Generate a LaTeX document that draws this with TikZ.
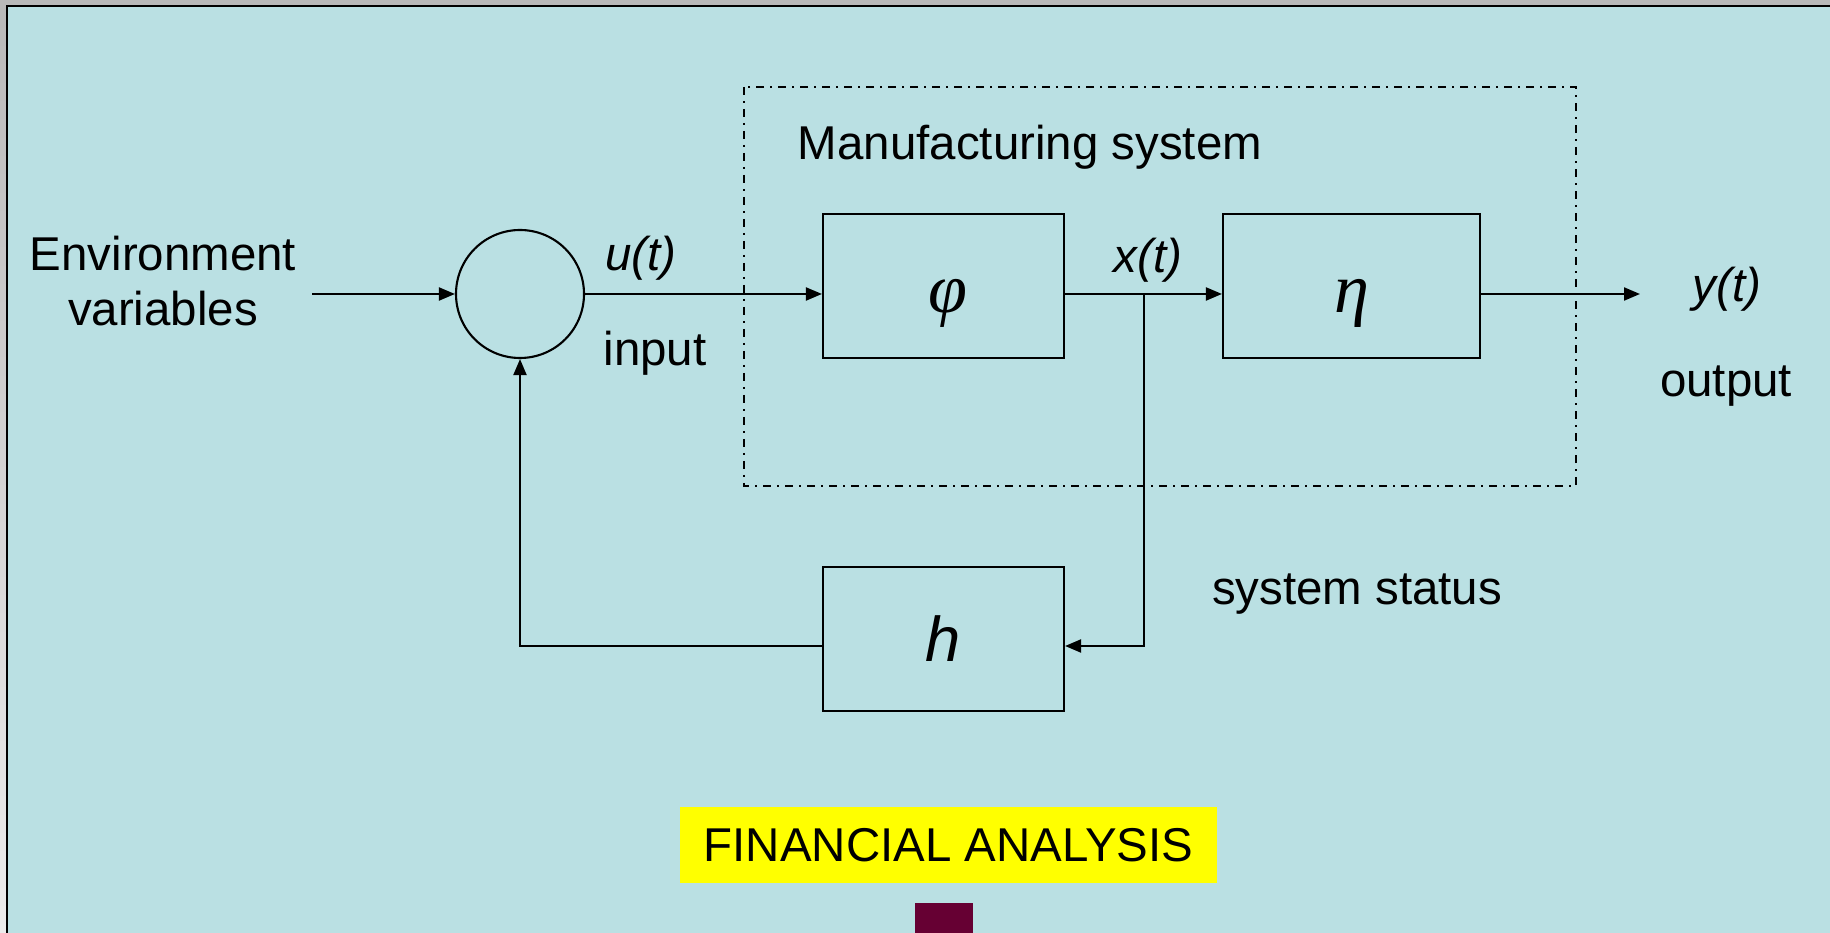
\documentclass[tikz,border=0pt]{standalone}
\usepackage{fontspec}
\setmainfont{Liberation Sans}
\newfontfamily\greekfont{Liberation Serif}
\usetikzlibrary{arrows.meta,positioning}

\definecolor{slidebg}{HTML}{BAE0E3}
\definecolor{framegray}{HTML}{B9B9B9}
\definecolor{framelight}{HTML}{ECECEC}
\definecolor{notebar}{HTML}{FFFF00}
\definecolor{tabmaroon}{HTML}{660033}

% block symbol, set on the signal line rather than the box centre
\newcommand{\blocksym}[1]{\raisebox{-0.27cm}[0pt][0pt]{\fontsize{20}{24}\selectfont\greekfont\itshape #1}}

\begin{document}
\begin{tikzpicture}[
  every node/.style={font=\fontsize{13.5}{15.4}\selectfont},
  block/.style={
    rectangle,
    draw=black,
    line width=0.6pt,
    minimum width=2.41cm,
    minimum height=1.44cm,
    inner sep=0pt
  },
  sumnode/.style={circle, draw=black, line width=0.6pt, minimum size=1.28cm, inner sep=0pt},
  signal/.style={anchor=base, font=\fontsize{13.5}{15.4}\selectfont\itshape},
  caption/.style={anchor=base},
  boundary/.style={draw=black, line width=0.6pt,
    dash pattern=on 0.08cm off 0.06cm on 0.02cm off 0.06cm},
  arrow/.style={-{Triangle[length=0.16cm, width=0.13cm]}, line width=0.6pt}
]
% slide frame
\clip (0,0) rectangle (18.3,-9.33);
\shade[top color=framegray, bottom color=framelight] (0,0) rectangle (0.08,-9.33);
\fill[framegray] (0,0) rectangle (18.3,-0.07);
\filldraw[fill=slidebg, draw=black, line width=0.02cm] (0.075,-0.065) rectangle (18.6,-9.6);

% plant boundary
\draw[boundary] (7.44,-0.87) rectangle (15.76,-4.86);
\node[caption] (plantlab) at (10.30,-1.60) {Manufacturing system};

% blocks
\node[sumnode] (sum) at (5.20,-2.94) {};
\node[block] (phi) at (9.435,-2.86) {\hspace{0.08cm}\blocksym{φ}};
\node[block, minimum width=2.57cm] (eta) at (13.515,-2.86) {\blocksym{η}};
\node[block, font=\fontsize{18}{22}\selectfont\itshape] (hblk) at (9.435,-6.39) {h};

% signals
\node[align=center] (env) at (1.63,-2.81) {Environment\\variables};
\coordinate (envin) at (3.12,-2.94);
\coordinate (xtap) at (11.44,-2.94);
\coordinate (fb) at (11.44,-6.46);
\coordinate (yout) at (16.40,-2.94);

\node[signal] (ulab) at (6.41,-2.71) {u(t)};
\node[caption] (inlab) at (6.55,-3.66) {input};
\node[signal] (xlab) at (11.48,-2.73) {x(t)};
\node[signal] (ylab) at (17.27,-3.02) {y(t)};
\node[caption] (outlab) at (17.26,-3.97) {output};
\node[caption] (statuslab) at (13.57,-6.05) {system status};

\draw[arrow] (envin) -- (sum);
\draw[arrow] (sum) -- (sum -| phi.west);
\draw[arrow] (phi.east |- sum) -- (eta.west |- sum);
\draw[arrow] (eta.east |- sum) -- (yout);
\draw[arrow] (xtap) -- (fb) -- (fb -| hblk.east);
\draw[arrow] (fb -| hblk.west) -| (sum.south);

% footer
\node[fill=notebar, minimum width=5.37cm, minimum height=0.76cm, inner sep=0pt] (fin) at (9.485,-8.45) {FINANCIAL ANALYSIS};
\node[fill=tabmaroon, minimum width=0.58cm, minimum height=0.58cm, inner sep=0pt, anchor=north] (tab) at (9.44,-9.02) {};
\end{tikzpicture}
\end{document}
